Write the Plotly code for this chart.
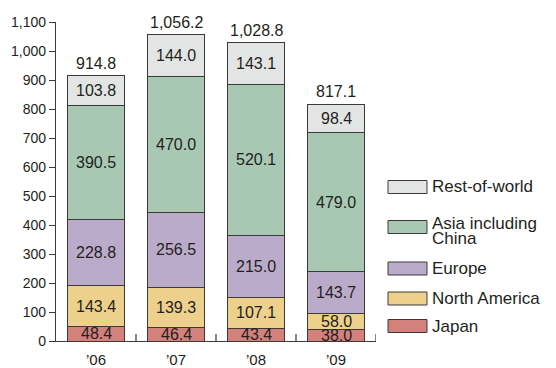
import plotly.graph_objects as go

years = ["\u201906", "\u201907", "\u201908", "\u201909"]
series_names = ["Japan", "North America", "Europe", "Asia including China", "Rest-of-world"]
japan = [48.4, 46.4, 43.4, 38.0]
north_america = [143.4, 139.3, 107.1, 58.0]
europe = [228.8, 256.5, 215.0, 143.7]
asia = [390.5, 470.0, 520.1, 479.0]
rest_of_world = [103.8, 144.0, 143.1, 98.4]
totals = [914.8, 1056.2, 1028.8, 817.1]
y_ticks = list(range(0, 1101, 100))

series_values = [japan, north_america, europe, asia, rest_of_world]
colors = ["#d4817b", "#ecd08b", "#bbabcb", "#a8c8b4", "#e3e5e4"]
ink = "#231f20"
edge = "#3a3a3a"
font_family = "Liberation Sans, Arial, sans-serif"

fig = go.Figure()
x_idx = list(range(len(years)))
for name, vals, col in zip(series_names, series_values, colors):
    fig.add_trace(go.Bar(
        x=x_idx, y=vals, name=name, width=0.72,
        marker=dict(color=col, line=dict(color=edge, width=1)),
        showlegend=False, hoverinfo="skip",
    ))

# value labels centred in each segment
annotations = []
base = [0.0] * len(years)
for vals in series_values:
    for i, v in enumerate(vals):
        annotations.append(dict(
            x=i, y=base[i] + v / 2, text=f"{v:.1f}", showarrow=False,
            xref="x", yref="y", font=dict(size=16, color=ink, family=font_family),
        ))
        base[i] += v

# totals above bars
for i, t in enumerate(totals):
    annotations.append(dict(
        x=i, y=t, text=f"{t:,.1f}", showarrow=False, xref="x", yref="y",
        yanchor="bottom", yshift=2, font=dict(size=16, color=ink, family=font_family),
    ))

# legend drawn as boxes with labels, top entry first
plot_left, plot_right, plot_top, plot_bottom = 56, 376, 22, 341
pw = plot_right - plot_left
ph = plot_bottom - plot_top

def px_x(p):
    return (p - plot_left) / pw

def px_y(p):
    return (plot_bottom - p) / ph

shapes = []
legend_rows = [
    (["Rest-of-world"], colors[4], 187),
    (["Asia including", "China"], colors[3], 227),
    (["Europe"], colors[2], 268.5),
    (["North America"], colors[1], 298.5),
    (["Japan"], colors[0], 326),
]
for lines, col, cy in legend_rows:
    shapes.append(dict(
        type="rect", xref="paper", yref="paper",
        x0=px_x(388), x1=px_x(427), y0=px_y(cy + 6.5), y1=px_y(cy - 6.5),
        fillcolor=col, line=dict(color=edge, width=1),
    ))
    ty = cy - 4 if len(lines) > 1 else cy
    for k, line in enumerate(lines):
        annotations.append(dict(
            x=px_x(430), y=px_y(ty + 15 * k), xref="paper", yref="paper", text=line,
            showarrow=False, xanchor="left", yanchor="middle", align="left",
            font=dict(size=17, color=ink, family=font_family),
        ))

fig.update_layout(
    barmode="stack",
    width=556, height=368,
    margin=dict(l=plot_left, r=556 - plot_right, t=plot_top, b=368 - plot_bottom, autoexpand=False),
    paper_bgcolor="white", plot_bgcolor="white",
    font=dict(family=font_family, color=ink),
    annotations=annotations, shapes=shapes,
    xaxis=dict(
        range=[-0.5, 3.5], tickmode="array", tickvals=x_idx, ticktext=years,
        showgrid=False, showline=True, linecolor=edge, linewidth=1.2,
        ticks="outside", ticklen=5, tickcolor="rgba(0,0,0,0)",
        tickfont=dict(size=15, color=ink), zeroline=False, automargin=False,
    ),
    yaxis=dict(
        range=[0, 1100], tickvals=y_ticks, ticktext=[f"{v:,}" for v in y_ticks],
        showgrid=False, showline=True, linecolor=edge, linewidth=1.2,
        ticks="outside", ticklen=6, tickcolor=edge, tickwidth=1.2,
        tickfont=dict(size=14, color=ink), zeroline=False, automargin=False,
    ),
)

# small upward ticks between categories on the x axis
for b in [0.5, 1.5, 2.5, 3.5]:
    fig.add_shape(type="line", xref="x", yref="paper", x0=b, x1=b, y0=0, y1=7 / ph,
                  line=dict(color=edge, width=1.2))

fig.write_html("out.html")
